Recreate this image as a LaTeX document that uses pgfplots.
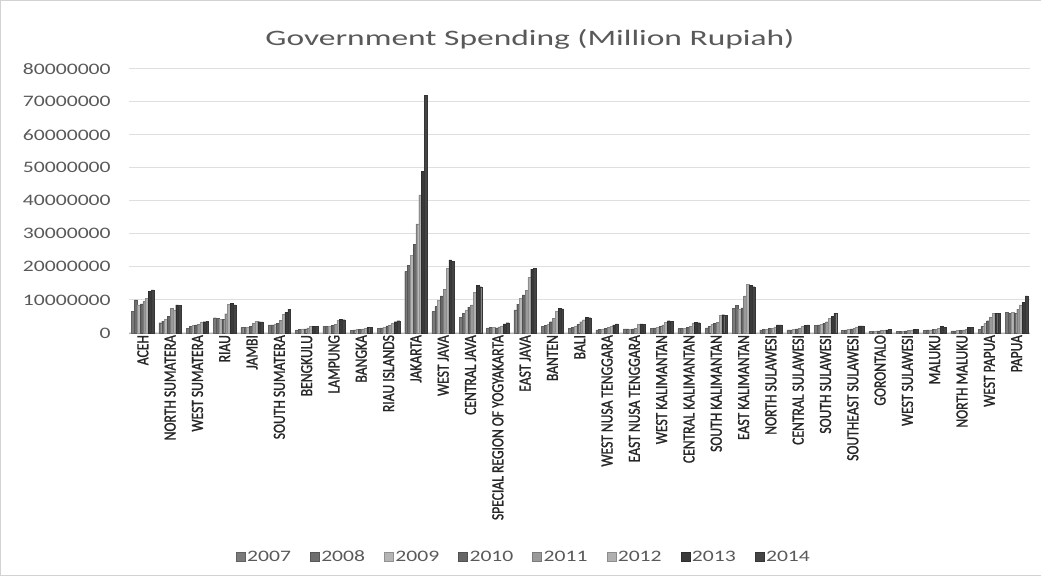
\documentclass[border=0pt]{standalone}
\usepackage{fontspec}
\setmainfont{Carlito}
\newfontfamily\widefont{Carlito}[FakeStretch=1.35]
\newfontfamily\titlefont{Carlito}[FakeStretch=1.52]
\newfontfamily\narrowfont{Carlito}[FakeStretch=0.8, FakeBold=1.2]
\usepackage{pgfplots}
\usepackage{pgfplotstable}
\pgfplotsset{compat=1.18}
\definecolor{txt}{HTML}{595959}
\definecolor{cA}{HTML}{7A7A7A}
\definecolor{cB}{HTML}{6E6E6E}
\definecolor{cC}{HTML}{B5B5B5}
\definecolor{cD}{HTML}{666666}
\definecolor{cE}{HTML}{9A9A9A}
\definecolor{cF}{HTML}{B0B0B0}
\definecolor{cG}{HTML}{3A3A3A}
\definecolor{cH}{HTML}{444444}
% values in million (axis labels show full rupiah numbers)
\pgfplotstableread{
x a b c d e f g h
0 6.5 10.0 8.5 8.8 9.5 10.5 12.5 13.0
1 3.1 3.6 4.1 5.1 7.5 6.9 8.5 8.3
2 1.4 1.9 2.2 2.4 2.6 3.3 3.4 3.5
3 4.6 4.4 4.2 4.1 5.8 8.7 9.0 8.5
4 1.6 1.6 1.7 1.9 2.9 3.6 3.4 3.3
5 2.4 2.4 2.7 2.9 3.9 5.6 6.2 7.2
6 0.9 1.0 1.2 1.2 1.5 1.9 2.0 2.0
7 1.9 1.9 2.0 2.2 2.6 3.9 4.1 4.0
8 0.8 0.9 1.1 1.1 1.2 1.4 1.7 1.7
9 1.4 1.5 1.7 2.1 2.4 2.8 3.4 3.7
10 18.6 20.4 23.4 26.8 33.0 41.8 48.9 71.9
11 6.5 8.0 9.8 11.2 13.2 19.6 22.1 21.6
12 4.7 6.0 6.8 7.8 8.5 12.2 14.5 14.0
13 1.5 1.7 1.6 1.5 1.8 2.1 2.7 3.1
14 7.0 8.7 10.4 11.5 12.8 16.9 19.3 19.6
15 2.0 2.3 2.6 3.4 4.4 6.5 7.5 7.3
16 1.4 1.7 2.0 2.6 3.4 4.0 4.8 4.6
17 0.9 1.0 1.2 1.4 1.6 1.9 2.4 2.7
18 1.2 1.2 1.1 1.2 1.3 2.5 2.7 2.6
19 1.3 1.5 1.7 2.0 2.4 3.2 3.7 3.6
20 1.3 1.4 1.4 1.6 1.9 3.0 3.2 3.1
21 1.5 2.0 2.5 2.8 3.2 5.4 5.5 5.3
22 7.5 8.4 7.2 7.6 11.2 14.8 14.5 14.0
23 0.9 1.0 1.1 1.3 1.4 1.8 2.4 2.4
24 0.9 0.9 1.1 1.2 1.4 1.9 2.2 2.4
25 2.2 2.4 2.6 2.9 3.4 4.4 5.0 5.9
26 0.8 0.9 1.1 1.2 1.4 1.8 2.1 2.1
27 0.5 0.5 0.6 0.6 0.7 0.8 0.9 1.1
28 0.4 0.5 0.5 0.6 0.8 0.9 1.0 1.0
29 0.8 0.9 0.9 1.0 1.1 1.3 1.9 1.7
30 0.6 0.6 0.7 0.8 0.9 1.1 1.6 1.6
31 1.0 1.9 2.9 3.7 4.7 6.0 6.0 5.9
32 6.3 6.0 6.2 6.0 7.2 8.5 9.2 11.2
}\data
\begin{document}
\begin{tikzpicture}[x=1pt,y=1pt]
\draw[gray!35] (0.5,0.5) rectangle (1040.5,575.5);
\node[font=\titlefont\fontsize{22}{26}\selectfont, text=txt] at (530,536) {Government Spending (Million Rupiah)};
\begin{axis}[
  at={(129.4pt,243pt)}, anchor=south west,
  scale only axis, width=900.6pt, height=264pt,
  xmin=-0.5, xmax=32.5, ymin=0, ymax=80,
  ybar=0pt, bar width=2.8pt,
  axis x line=bottom, axis y line=left,
  y axis line style={draw=none},
  x axis line style={draw=gray!60, -},
  major tick length=0pt,
  ymajorgrids, grid style={gray!25, line width=0.8pt},
  ytick={0,10,...,80},
  yticklabels={0,10000000,20000000,30000000,40000000,50000000,60000000,70000000,80000000},
  yticklabel style={font=\widefont\fontsize{16}{18}\selectfont, text=txt, xshift=-15pt},
  xtick={0,...,32},
  xticklabels={ACEH,NORTH SUMATERA,WEST SUMATERA,RIAU,JAMBI,SOUTH SUMATERA,BENGKULU,LAMPUNG,BANGKA,RIAU ISLANDS,JAKARTA,WEST JAVA,CENTRAL JAVA,SPECIAL REGION OF YOGYAKARTA,EAST JAVA,BANTEN,BALI,WEST NUSA TENGGARA,EAST NUSA TENGGARA,WEST KALIMANTAN,CENTRAL KALIMANTAN,SOUTH KALIMANTAN,EAST KALIMANTAN,NORTH SULAWESI,CENTRAL SULAWESI,SOUTH SULAWESI,SOUTHEAST SULAWESI,GORONTALO,WEST SULAWESI,MALUKU,NORTH MALUKU,WEST PAPUA,PAPUA},
  xticklabel style={rotate=90, anchor=east, font=\narrowfont\fontsize{17}{19}\selectfont, text=black!85, inner sep=2pt},
  legend columns=8,
  legend style={at={(0.438,-0.848)}, anchor=center, draw=none, fill=none,
    font=\widefont\fontsize{16}{18}\selectfont, text=txt,
    /tikz/every even column/.append style={column sep=17pt}},
  legend image code/.code={\fill[#1] (0pt,-4.5pt) rectangle (9pt,4.5pt);},
  clip=false,
]
\addplot[fill=cA, draw=cA!80!black, line width=0.3pt] table[x=x,y=a]{\data};
\addplot[fill=cB, draw=cB!80!black, line width=0.3pt] table[x=x,y=b]{\data};
\addplot[fill=cC, draw=cC!80!black, line width=0.3pt] table[x=x,y=c]{\data};
\addplot[fill=cD, draw=cD!80!black, line width=0.3pt] table[x=x,y=d]{\data};
\addplot[fill=cE, draw=cE!80!black, line width=0.3pt] table[x=x,y=e]{\data};
\addplot[fill=cF, draw=cF!80!black, line width=0.3pt] table[x=x,y=f]{\data};
\addplot[fill=cG, draw=cG!80!black, line width=0.3pt] table[x=x,y=g]{\data};
\addplot[fill=cH, draw=cH!80!black, line width=0.3pt] table[x=x,y=h]{\data};
\legend{2007,2008,2009,2010,2011,2012,2013,2014}
\end{axis}
\end{tikzpicture}
\end{document}
